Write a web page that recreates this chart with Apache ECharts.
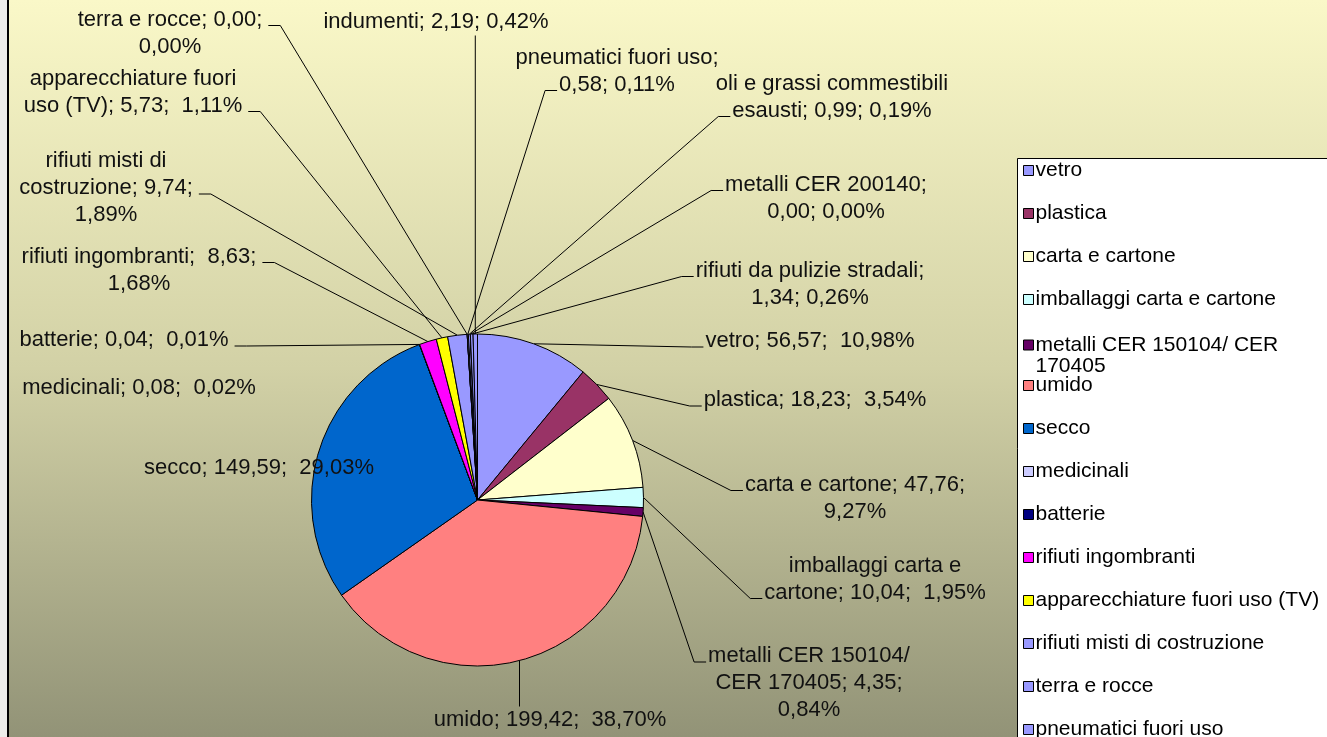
<!DOCTYPE html>
<html>
<head>
<meta charset="utf-8">
<script src="https://cdn.jsdelivr.net/npm/echarts@6/dist/echarts.min.js"></script>
<style>
  html, body { margin: 0; padding: 0; background: #fff; }
  #chart { width: 1327px; height: 737px; }
</style>
</head>
<body>
<div id="chart"></div>
<script>
// waste collected by type (clockwise from 12 o'clock), values as printed
const categories = [
  'vetro', 'plastica', 'carta e cartone', 'imballaggi carta e cartone',
  'metalli CER 150104/ CER 170405', 'umido', 'secco', 'medicinali', 'batterie',
  'rifiuti ingombranti', 'apparecchiature fuori uso (TV)', 'rifiuti misti di costruzione',
  'terra e rocce', 'pneumatici fuori uso', 'oli e grassi commestibili esausti',
  'metalli CER 200140', 'rifiuti da pulizie stradali', 'indumenti'
]
const values = [56.57, 18.23, 47.76, 10.04, 4.35, 199.42, 149.59, 0.08, 0.04,
  8.63, 5.73, 9.74, 0.00, 0.58, 0.99, 0.00, 1.34, 2.19]
const percents = [10.98, 3.54, 9.27, 1.95, 0.84, 38.70, 29.03, 0.02, 0.01,
  1.68, 1.11, 1.89, 0.00, 0.11, 0.19, 0.00, 0.26, 0.42]
const colors = ['#9999ff', '#993366', '#ffffcc', '#ccffff', '#660066', '#ff8080',
  '#0066cc', '#ccccff', '#000080', '#ff00ff', '#ffff00', '#9999ff', '#9999ff',
  '#9999ff', '#9999ff', '#9999ff', '#9999ff', '#9999ff']

// how each label text wraps ({n|k} = break the name after k words)
const labelTpl = [
  '{n}; {v};  {p}', '{n}; {v};  {p}', '{n}; {v};\n{p}', '{n|3}; {v};  {p}',
  '{n|3}; {v};\n{p}', '{n}; {v};  {p}', '{n}; {v};  {p}', '{n}; {v};  {p}',
  '{n}; {v};  {p}', '{n};  {v};\n{p}', '{n|2}; {v};  {p}', '{n|3}; {v};\n{p}',
  '{n}; {v};\n{p}', '{n};\n{v}; {p}', '{n|4}; {v}; {p}', '{n};\n{v}; {p}',
  '{n};\n{v}; {p}', '{n}; {v}; {p}'
]
// label block centres and where the leader line attaches (side + line index)
const labelAt = [[810, 341], [815, 400], [855, 498], [875, 579], [809, 683], [550, 720],
  [259, 468], [139, 388], [124, 340], [139, 270], [133, 92], [106, 188], [170, 33],
  [617, 71], [832, 97], [826, 198], [810, 284], [436, 22]]
const leader = ['l0', 'l0', 'l0', 'l1', 'l0', 't', null, null, 'r0', 'r0', 'r1', 'r1',
  'r0', 'l1', 'l1', 'l0', 'l0', 'b']
const LINE_H = 27
const LABEL_SIZE = 22

const num = (v) => v.toFixed(2).replace('.', ',')

function labelText (i) {
  return labelTpl[i]
    .replace(/\{n(?:\|(\d+))?\}/, (m, k) => {
      if (!k) return categories[i]
      const w = categories[i].split(' ')
      return w.slice(0, +k).join(' ') + '\n' + w.slice(+k).join(' ')
    })
    .replace('{v}', num(values[i]))
    .replace('{p}', num(percents[i]) + '%')
}

const ctx = document.createElement('canvas').getContext('2d')
ctx.font = LABEL_SIZE + 'px "Liberation Sans", Arial, sans-serif'
const lineWidth = (i, k) => ctx.measureText(labelText(i).split('\n')[k]).width

const chart = echarts.init(document.getElementById('chart'))
const font = 'Liberation Sans, Arial, sans-serif'

const legendBase = {
  orient: 'vertical', left: 1023, height: 1000, padding: 0,
  itemWidth: 10, itemHeight: 10, itemGap: 22,
  icon: 'rect', selectedMode: false,
  itemStyle: { borderColor: '#000', borderWidth: 1 },
  textStyle: { fontFamily: font, fontSize: 21, color: '#000', lineHeight: 21, padding: [0, 0, 0, -3] }
}

chart.setOption({
  animation: false,
  backgroundColor: new echarts.graphic.LinearGradient(0, 0, 0, 1, [
    { offset: 0, color: '#faf8c8' },
    { offset: 0.5, color: '#d2d1a6' },
    { offset: 1, color: '#929377' }
  ]),
  graphic: [
    { type: 'rect', shape: { x: 0, y: 0, width: 7, height: 737 }, style: { fill: '#ededea' } },
    { type: 'line', shape: { x1: 8, y1: 0, x2: 8, y2: 737 }, style: { stroke: '#000', lineWidth: 2 } },
    { type: 'rect', shape: { x: 1017.5, y: 158.5, width: 400, height: 700 },
      style: { fill: '#fff', stroke: '#000', lineWidth: 1 } }
  ],
  legend: [
    Object.assign({}, legendBase, { top: 160, data: categories.slice(0, 4) }),
    // the two-line entry keeps its marker on the first line, like the original
    Object.assign({}, legendBase, {
      top: 313.5, data: [categories[4]],
      formatter: () => '{a|metalli CER 150104/ CER}\n{a|170405}',
      textStyle: Object.assign({}, legendBase.textStyle, {
        padding: [21, 0, 0, -3], rich: { a: { fontFamily: font, fontSize: 21, lineHeight: 21, color: '#000' } }
      })
    }),
    Object.assign({}, legendBase, { top: 375, data: categories.slice(5) })
  ],
  series: [{
    type: 'pie',
    center: [477.5, 500],
    radius: 166,
    startAngle: 90,
    clockwise: true,
    avoidLabelOverlap: false,
    emphasis: { disabled: true },
    itemStyle: { borderColor: '#000', borderWidth: 1 },
    label: {
      show: true, position: 'outside',
      fontFamily: font, fontSize: LABEL_SIZE, lineHeight: LINE_H, color: '#111',
      formatter: (p) => labelText(p.dataIndex)
    },
    labelLine: { show: true, lineStyle: { color: '#000', width: 1 } },
    labelLayout: (p) => {
      const i = p.dataIndex
      const [cx, cy] = labelAt[i]
      const h = p.labelRect.height
      const out = { x: cx, y: cy, align: 'center', verticalAlign: 'middle' }
      const how = leader[i], pts = p.labelLinePoints
      if (how && pts) {
        const a = pts[0]
        const top = cy - h / 2
        if (how[0] === 'l' || how[0] === 'r') {
          const k = +how.slice(1)
          const y = top + (k + 0.5) * LINE_H + 6
          const half = lineWidth(i, k) / 2
          const ex = how[0] === 'l' ? cx - half - 2 : cx + half + 6
          const bx = how[0] === 'l' ? ex - 12 : ex + 12
          out.labelLinePoints = [a, [bx, y], [ex, y]]
        } else {
          const y = how === 't' ? top : top + h
          out.labelLinePoints = [a, [a[0], y], [a[0], y]]
        }
      }
      return out
    },
    data: categories.map((name, i) => ({
      name, value: values[i],
      itemStyle: { color: colors[i] },
      labelLine: leader[i] ? undefined : { show: false }
    }))
  }]
})
</script>
</body>
</html>
